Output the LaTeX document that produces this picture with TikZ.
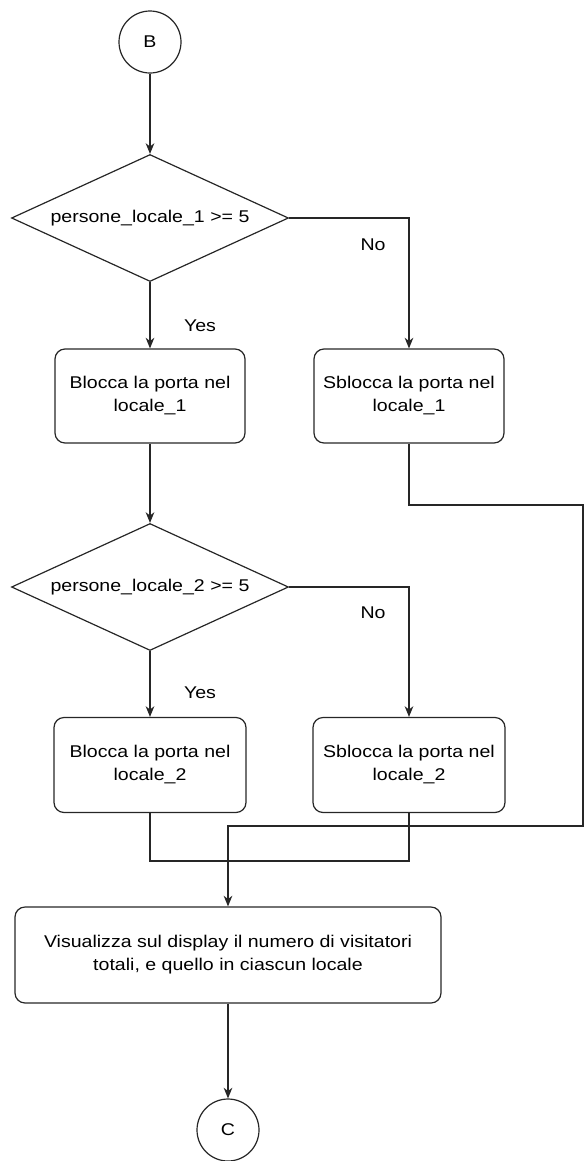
\documentclass[tikz,border=0pt]{standalone}
\usepackage{fontspec}
\setmainfont{Liberation Sans}[FakeStretch=1.15]
\usetikzlibrary{shapes.geometric,arrows.meta}
\begin{document}
\begin{tikzpicture}[x=0.75pt,y=-0.75pt,
  every node/.style={font=\fontsize{12.75pt}{17.25pt}\selectfont},
  line/.style={draw=black!85,line width=0.9pt},
  arr/.style={line,-{Stealth[length=8pt,width=6.5pt,inset=2.5pt]}},
  conn/.style={circle,line,minimum size=46.5pt,inner sep=0pt},
  dec/.style={diamond,aspect=2.18,line,minimum width=207.75pt,minimum height=95.25pt,inner sep=0pt},
  proc/.style={rectangle,rounded corners=7.5pt,line,minimum width=142.5pt,minimum height=70.5pt,align=center,inner sep=0pt},
  lbl/.style={inner sep=0pt}]
\useasboundingbox (0,0) rectangle (585,1161);
\node[conn] (B) at (150,42) {B};
\node[dec] (D1) at (150,218) {persone\_locale\_1 >= 5};
\node[proc] (R1) at (150,396) {Blocca la porta nel\\locale\_1};
\node[proc] (R2) at (409,396) {Sblocca la porta nel\\locale\_1};
\node[dec] (D2) at (150,587) {persone\_locale\_2 >= 5};
\node[proc,minimum width=144pt,minimum height=71.25pt] (R3) at (150,765) {Blocca la porta nel\\locale\_2};
\node[proc,minimum width=144pt,minimum height=71.25pt] (R4) at (409,765) {Sblocca la porta nel\\locale\_2};
\node[proc,minimum width=319.5pt,minimum height=72pt] (V) at (228,955) {Visualizza sul display il numero di visitatori\\totali, e quello in ciascun locale};
\node[conn] (C) at (228,1130) {C};
\node[lbl] (no1) at (373,245) {No};
\node[lbl] (yes1) at (200,326) {Yes};
\node[lbl] (no2) at (373,613) {No};
\node[lbl] (yes2) at (200,693) {Yes};
\coordinate (r2a) at (409,505);
\coordinate (r2b) at (583,505);
\coordinate (r2c) at (583,826);
\coordinate (r2d) at (228,826);
\coordinate (m3) at (150,861);
\coordinate (m4) at (409,861);
\draw[arr] (B) -- (D1);
\draw[arr] (D1.east) -| (R2.north);
\draw[arr] (D1.south) -- (R1.north);
\draw[arr] (R1.south) -- (D2.north);
\draw[arr] (R2.south) -- (r2a) -- (r2b) -- (r2c) -- (r2d) -- (V.north -| r2d);
\draw[arr] (D2.east) -| (R4.north);
\draw[arr] (D2.south) -- (R3.north);
\draw[line] (R3.south) -- (m3) -- (m4) -- (R4.south);
\draw[arr] (V.south -| C) -- (C.north);
\end{tikzpicture}
\end{document}
